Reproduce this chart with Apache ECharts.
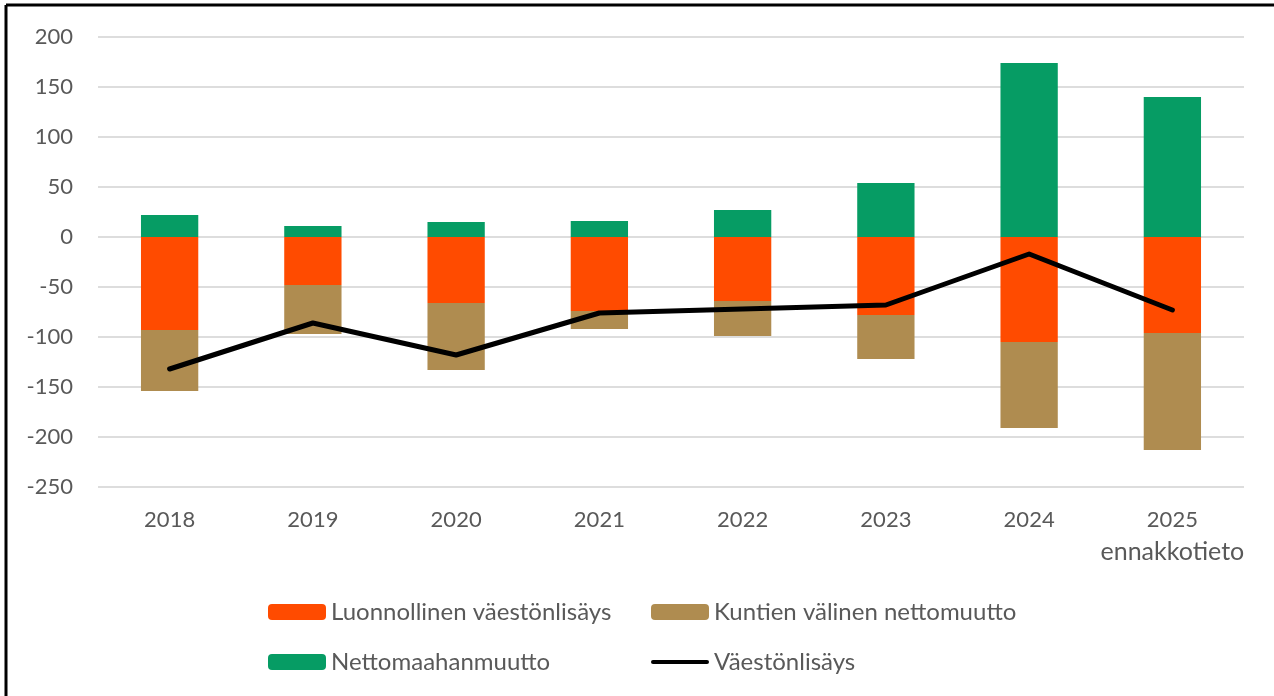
<!DOCTYPE html>
<html>
<head>
<meta charset="utf-8">
<script src="https://cdn.jsdelivr.net/npm/echarts@6/dist/echarts.min.js"></script>
<style>
  html, body { margin: 0; padding: 0; background: #fff; }
  #chart { width: 1274px; height: 696px; }
</style>
</head>
<body>
<div id="chart"></div>
<script>
const years = ['2018', '2019', '2020', '2021', '2022', '2023', '2024', '2025\nennakkotieto']
const luonnollinen = [-93, -48, -66, -74, -64, -78, -105, -96]
const kuntienValinen = [-61, -49, -67, -18, -35, -44, -86, -117]
const nettomaahanmuutto = [22, 11, 15, 16, 27, 54, 174, 140]
const vaestonlisays = [-132, -86, -118, -76, -72, -68, -17, -73]

const textColor = '#595959'
const fontFamily = 'Lato, "Open Sans", sans-serif'

const chart = echarts.init(document.getElementById('chart'))

const legendText = { color: textColor, fontSize: 24, lineHeight: 24, fontFamily: fontFamily }

const option = {
  animation: false,
  textStyle: { fontFamily: fontFamily },
  graphic: [
    // kehys ylä- ja vasemmassa reunassa
    { type: 'line', shape: { x1: 6, y1: 5, x2: 1274, y2: 5 }, style: { stroke: '#000', lineWidth: 3 } },
    { type: 'line', shape: { x1: 6, y1: 5, x2: 6, y2: 696 }, style: { stroke: '#000', lineWidth: 3 } }
  ],
  grid: { left: 98, right: 30, top: 37, bottom: 209 },
  legend: [
    {
      left: 268, top: 600, orient: 'vertical', itemGap: 26, padding: 0,
      itemWidth: 58, itemHeight: 16,
      textStyle: legendText,
      data: ['Luonnollinen väestönlisäys', 'Nettomaahanmuutto']
    },
    {
      left: 651, top: 600, orient: 'vertical', itemGap: 26, padding: 0,
      itemWidth: 58, itemHeight: 16,
      textStyle: legendText,
      data: [
        'Kuntien välinen nettomuutto',
        { name: 'Väestönlisäys', icon: 'path://M2,0 L56,0 A2,2 0 0 1 56,4 L2,4 A2,2 0 0 1 2,0 Z' }
      ]
    }
  ],
  xAxis: {
    type: 'category',
    data: years,
    axisLine: { show: false },
    axisTick: { show: false },
    axisLabel: {
      color: textColor, fontSize: 22, margin: 17, lineHeight: 32, interval: 0,
      formatter: function (v) {
        return v.split('\n').map(function (s, i) { return i ? '{sub|' + s + '}' : '{main|' + s + '}' }).join('\n')
      },
      rich: {
        main: { color: textColor, fontSize: 22, lineHeight: 32 },
        sub: { color: textColor, fontSize: 25, lineHeight: 32 }
      }
    }
  },
  yAxis: {
    type: 'value',
    min: -250,
    max: 200,
    interval: 50,
    axisLine: { show: false },
    axisTick: { show: false },
    axisLabel: { color: textColor, fontSize: 22, margin: 25 },
    splitLine: { lineStyle: { color: '#DDDDDD', width: 2 } }
  },
  series: [
    {
      name: 'Luonnollinen väestönlisäys',
      type: 'bar',
      stack: 'total',
      barWidth: '40%',
      itemStyle: { color: '#FF4B00' },
      data: luonnollinen
    },
    {
      name: 'Kuntien välinen nettomuutto',
      type: 'bar',
      stack: 'total',
      itemStyle: { color: '#AF8C50' },
      data: kuntienValinen
    },
    {
      name: 'Nettomaahanmuutto',
      type: 'bar',
      stack: 'total',
      itemStyle: { color: '#069C64' },
      data: nettomaahanmuutto
    },
    {
      name: 'Väestönlisäys',
      type: 'line',
      showSymbol: false,
      symbol: 'none',
      itemStyle: { color: '#000' },
      lineStyle: { color: '#000', width: 5, cap: 'round', join: 'round' },
      data: vaestonlisays
    }
  ]
}

option && chart.setOption(option)
</script>
</body>
</html>
